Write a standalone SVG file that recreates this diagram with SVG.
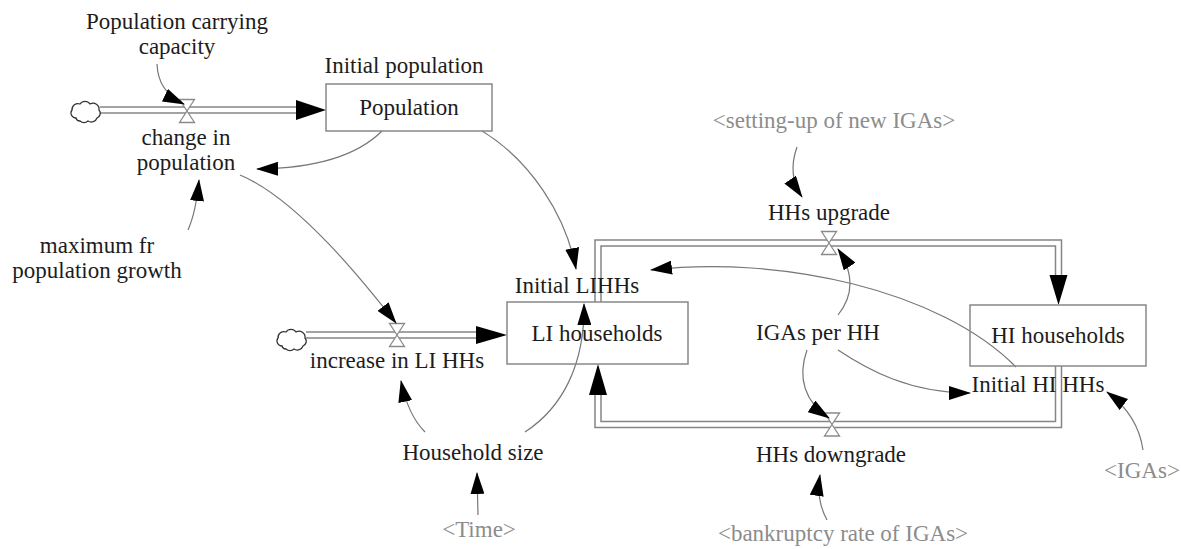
<svg xmlns="http://www.w3.org/2000/svg" xmlns:xlink="http://www.w3.org/1999/xlink" width="1181" height="549" viewBox="0 0 1181 549">
  <style>
    .lbl { font-family: 'Liberation Serif', 'Times New Roman', Times, 'DejaVu Serif', serif; font-size: 23px; fill: #1c1c1c; text-anchor: middle; }
    .shadow { fill: #8c8c8c; }
    .box { fill: none; stroke: #888; stroke-width: 1.5; }
    .pipe-out { fill: none; stroke: #858585; stroke-width: 7.5; stroke-linejoin: miter; }
    .pipe-in { fill: none; stroke: #fff; stroke-width: 4.5; stroke-linejoin: miter; }
    .head { fill: #000; }
    .valve { fill: #fff; stroke: #8a8a8a; stroke-width: 1.3; }
    .cloud { fill: #fff; stroke: #333; stroke-width: 1.3; }
    .link { fill: none; stroke: #777; stroke-width: 1.2; marker-end: url(#tip); }
  </style>
  <defs>
    <marker id="tip" markerWidth="22" markerHeight="14" refX="21" refY="7" orient="auto" markerUnits="userSpaceOnUse">
      <path d="M0,0 L22,7 L0,14 Z" fill="#000"/>
    </marker>
    <path id="cloudShape" d="M-10,6 a5,5 0 0 1 -4,-8 a6,6 0 0 1 8,-6 a6,6 0 0 1 10,0 a6,6 0 0 1 9,6 a5,5 0 0 1 -2,8 a6,6 0 0 1 -9,3 a6,6 0 0 1 -8,0 a4,4 0 0 1 -4,-3 Z"/>
    <path id="valveShape" d="M-7.5,-11.5 L7.5,-11.5 L-7.5,11.5 L7.5,11.5 Z"/>
  </defs>

  <rect width="1181" height="549" fill="#fff"/>

  <g id="connectors">
    <!-- flow pipes -->
    <path class="pipe-out" d="M100,110 L297,110"/>
    <path class="pipe-in" d="M100,110 L297,110"/>
    <polygon class="head" points="296,100 296,120 326,110"/>

    <path class="pipe-out" d="M306,335 L477,335"/>
    <path class="pipe-in" d="M306,335 L477,335"/>
    <polygon class="head" points="476,326 476,344 507,335"/>

    <path class="pipe-out" d="M598,302 L598,243 L1058.5,243 L1058.5,276"/>
    <path class="pipe-in" d="M598,302 L598,243 L1058.5,243 L1058.5,276"/>
    <polygon class="head" points="1049.5,275 1067.5,275 1058.5,305"/>

    <path class="pipe-out" d="M1058.5,366 L1058.5,424.5 L598,424.5 L598,394"/>
    <path class="pipe-in" d="M1058.5,366 L1058.5,424.5 L598,424.5 L598,394"/>
    <polygon class="head" points="589,395 607,395 598,364"/>

    <!-- sources -->
    <use xlink:href="#cloudShape" href="#cloudShape" class="cloud" x="86" y="112"/>
    <use xlink:href="#cloudShape" href="#cloudShape" class="cloud" x="292" y="340"/>

    <!-- valves -->
    <use xlink:href="#valveShape" href="#valveShape" class="valve" x="187" y="111"/>
    <use xlink:href="#valveShape" href="#valveShape" class="valve" x="397" y="335"/>
    <use xlink:href="#valveShape" href="#valveShape" class="valve" x="829" y="243"/>
    <use xlink:href="#valveShape" href="#valveShape" class="valve" x="832" y="424.5"/>

    <!-- causal links -->
    <path class="link" d="M157,64 Q158,92 184,104"/>
    <path class="link" d="M382,131 Q345,168 257,169"/>
    <path class="link" d="M482,131 C530,160 566,215 576,269"/>
    <path class="link" d="M240,175 C300,200 370,290 396,323"/>
    <path class="link" d="M188,230 Q196,212 199,180"/>
    <path class="link" d="M425,432 Q408,415 401,381"/>
    <path class="link" d="M525,432 C562,408 585,365 584,304"/>
    <path class="link" d="M478,515 L477,473"/>
    <path class="link" d="M797,147 Q787,175 802,197"/>
    <path class="link" d="M838,315 Q862,285 838,249"/>
    <path class="link" d="M807,350 C797,378 805,402 829,418"/>
    <path class="link" d="M838,350 C868,370 910,393 970,393"/>
    <path class="link" d="M1016,367 C940,290 780,255 651,270"/>
    <path class="link" d="M1143,450 Q1138,415 1107,392"/>
    <path class="link" d="M827,520 Q816,500 820,475"/>
  </g>

  <g id="population">
    <rect class="box" x="326" y="84" width="166" height="47"/>
    <text class="lbl" x="409" y="115">Population</text>
    <text class="lbl" x="404" y="73">Initial population</text>
  </g>

  <g id="population-carrying-capacity">
    <text class="lbl" x="177" y="29">Population carrying</text>
    <text class="lbl" x="177" y="54">capacity</text>
  </g>

  <g id="change-in-population">
    <text class="lbl" x="186" y="145">change in</text>
    <text class="lbl" x="186" y="170">population</text>
  </g>

  <g id="maximum-fr-population-growth">
    <text class="lbl" x="97" y="253">maximum fr</text>
    <text class="lbl" x="97" y="278">population growth</text>
  </g>

  <g id="li-households">
    <rect class="box" x="507" y="302" width="181" height="62"/>
    <text class="lbl" x="597" y="341">LI households</text>
  </g>

  <g id="initial-lihhs">
    <text class="lbl" x="577" y="293">Initial LIHHs</text>
  </g>

  <g id="increase-in-li-hhs">
    <text class="lbl" x="397" y="368">increase in LI HHs</text>
  </g>

  <g id="household-size">
    <text class="lbl" x="473" y="460">Household size</text>
  </g>

  <g id="time">
    <text class="lbl shadow" x="479" y="537">&lt;Time&gt;</text>
  </g>

  <g id="setting-up-of-new-igas">
    <text class="lbl shadow" x="834" y="128">&lt;setting-up of new IGAs&gt;</text>
  </g>

  <g id="hhs-upgrade">
    <text class="lbl" x="829" y="220">HHs upgrade</text>
  </g>

  <g id="igas-per-hh">
    <text class="lbl" x="818" y="340">IGAs per HH</text>
  </g>

  <g id="hi-households">
    <rect class="box" x="970" y="305" width="176" height="61"/>
    <text class="lbl" x="1058" y="343">HI households</text>
  </g>

  <g id="initial-hi-hhs">
    <text class="lbl" x="1038" y="392">Initial HI HHs</text>
  </g>

  <g id="hhs-downgrade">
    <text class="lbl" x="831" y="462">HHs downgrade</text>
  </g>

  <g id="bankruptcy-rate-of-igas">
    <text class="lbl shadow" x="843" y="541">&lt;bankruptcy rate of IGAs&gt;</text>
  </g>

  <g id="igas">
    <text class="lbl shadow" x="1142" y="478">&lt;IGAs&gt;</text>
  </g>
</svg>
